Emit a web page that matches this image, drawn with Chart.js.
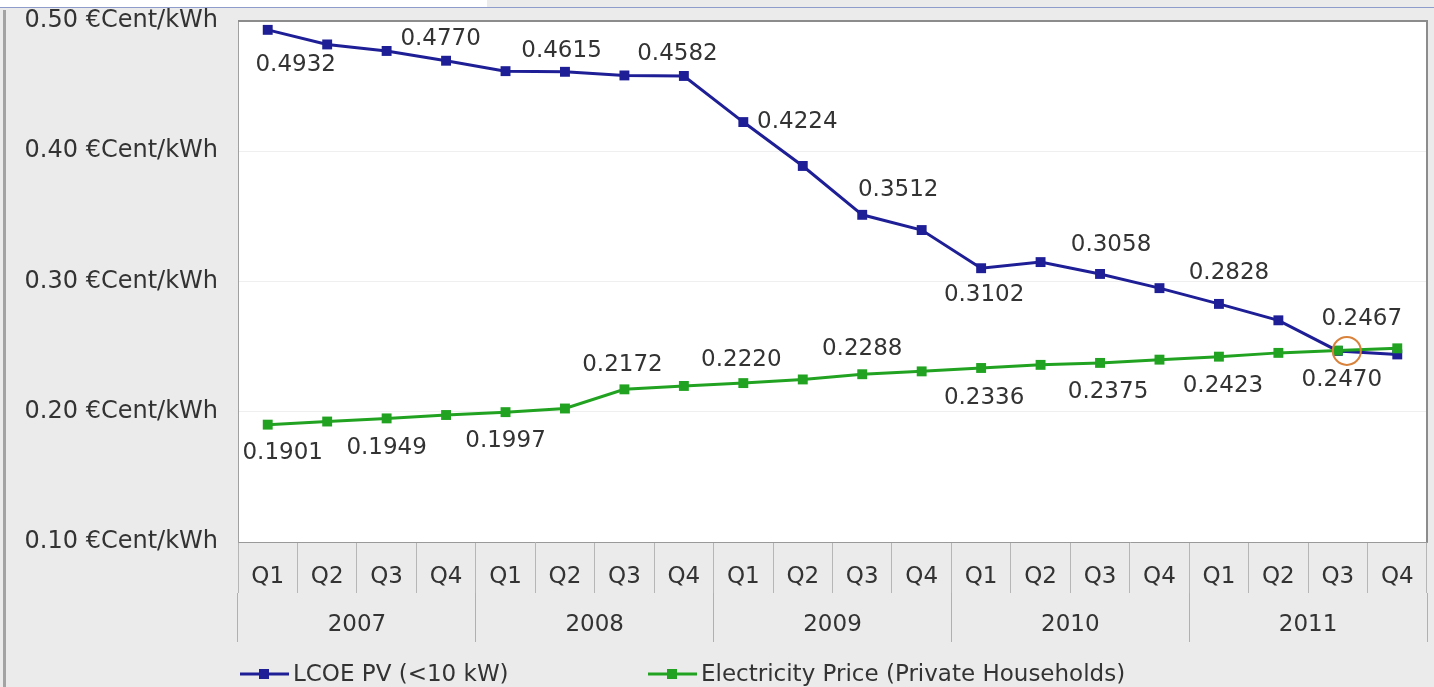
<!DOCTYPE html>
<html>
<head>
<meta charset="utf-8">
<script src="https://cdn.jsdelivr.net/npm/chart.js@4.4.1/dist/chart.umd.min.js"></script>
<style>
  html, body { margin: 0; padding: 0; background: #ebebeb; overflow: hidden; }
  #wrap { position: relative; width: 1434px; height: 687px; background: #ebebeb; }
  #strip { position: absolute; left: 0; top: 0; width: 487px; height: 7px; background: #ffffff; }
  #rule { position: absolute; left: 0; top: 7px; width: 1434px; height: 1px; background: #8e9ccc; }
  #edge { position: absolute; left: 3px; top: 10px; width: 3px; height: 677px; background: #a3a3a3; }
  canvas { position: absolute; left: 0; top: 0; }
</style>
</head>
<body>
<div id="wrap">
  <div id="strip"></div>
  <div id="rule"></div>
  <div id="edge"></div>
  <canvas id="c" width="1434" height="687"></canvas>
</div>
<script>
// Quarterly axis labels and the year band beneath them
const quarters = ['Q1','Q2','Q3','Q4','Q1','Q2','Q3','Q4','Q1','Q2','Q3','Q4','Q1','Q2','Q3','Q4','Q1','Q2','Q3','Q4'];
const years = ['2007', '2008', '2009', '2010', '2011'];

// Levelised cost of PV electricity (<10 kW systems), €/kWh
const lcoePV = [0.4932, 0.4820, 0.4770, 0.4695, 0.4615, 0.4610, 0.4582, 0.4578, 0.4224, 0.3887,
                0.3512, 0.3395, 0.3102, 0.3149, 0.3058, 0.2949, 0.2828, 0.2702, 0.2467, 0.2440];
// Electricity price for private households, €/kWh
const electricityPrice = [0.1901, 0.1925, 0.1949, 0.1975, 0.1997, 0.2025, 0.2172, 0.2198, 0.2220, 0.2248,
                          0.2288, 0.2310, 0.2336, 0.2360, 0.2375, 0.2400, 0.2423, 0.2452, 0.2470, 0.2487];

// Value axis range and step
const yMin = 0.10;
const yMax = 0.50;
const yStep = 0.10;

// Quarters that carry a value label (first and third quarter of each year)
const labelledPoints = [0, 2, 4, 6, 8, 10, 12, 14, 16, 18];
// Quarter where the two curves meet (grid parity)
const parityIndex = 18;

const FONT = "'DejaVu Sans', Verdana, sans-serif";
const TEXT = '#333333';
const BLUE = '#1e1e96';
const GREEN = '#21a321';

// Label offsets (px) from each labelled point, per series
const labelOffsets = [
  [[28, 35], [54, -12], [56, -20], [53, -21], [54, 0], [36, -25], [3, 27], [11, -29], [10, -31], [24, -32]],
  [[15, 28], [0, 30], [0, 29], [-2, -24], [-2, -23], [0, -25], [3, 30], [8, 29], [4, 29], [4, 29]]
];

const plotFrame = {
  id: 'plotFrame',
  beforeDraw(chart) {
    const { ctx, chartArea: a } = chart;
    ctx.save();
    ctx.fillStyle = '#ffffff';
    ctx.fillRect(a.left, a.top, a.right - a.left, a.bottom - a.top);
    ctx.restore();
  },
  afterDraw(chart) {
    const { ctx, chartArea: a } = chart;
    ctx.save();
    ctx.strokeStyle = '#8c8c8c';
    ctx.lineWidth = 2;
    ctx.beginPath();
    ctx.moveTo(a.left, a.top);
    ctx.lineTo(a.right, a.top);
    ctx.lineTo(a.right, a.bottom);
    ctx.stroke();
    ctx.restore();
  }
};

const valueLabels = {
  id: 'valueLabels',
  afterDatasetsDraw(chart) {
    const { ctx } = chart;
    ctx.save();
    ctx.font = '23px ' + FONT;
    ctx.fillStyle = TEXT;
    ctx.textAlign = 'center';
    ctx.textBaseline = 'middle';
    chart.data.datasets.forEach((ds, di) => {
      const meta = chart.getDatasetMeta(di);
      labelledPoints.forEach((idx, k) => {
        const pt = meta.data[idx];
        const [dx, dy] = labelOffsets[di][k];
        ctx.fillText(ds.data[idx].toFixed(4), pt.x + dx, pt.y + dy);
      });
    });
    // ring marking where the curves meet
    const p = chart.getDatasetMeta(0).data[parityIndex];
    ctx.strokeStyle = '#d9823b';
    ctx.lineWidth = 2;
    ctx.beginPath();
    ctx.arc(p.x + 9, p.y, 14, 0, Math.PI * 2);
    ctx.stroke();
    ctx.restore();
  }
};

const lineLegend = {
  id: 'lineLegend',
  afterDraw(chart) {
    const { ctx } = chart;
    const starts = [240, 648];
    const y = 674;
    ctx.save();
    chart.data.datasets.forEach((ds, i) => {
      const x = starts[i];
      ctx.strokeStyle = ds.borderColor;
      ctx.lineWidth = 3;
      ctx.beginPath();
      ctx.moveTo(x, y);
      ctx.lineTo(x + 49, y);
      ctx.stroke();
      ctx.fillStyle = ds.borderColor;
      ctx.fillRect(x + 19, y - 5, 10, 10);
      ctx.font = '23px ' + FONT;
      ctx.fillStyle = TEXT;
      ctx.textAlign = 'left';
      ctx.textBaseline = 'middle';
      ctx.fillText(ds.label, x + 53, y + 1);
    });
    ctx.restore();
  }
};

new Chart(document.getElementById('c'), {
  type: 'line',
  data: {
    labels: quarters,
    datasets: [
      {
        label: 'LCOE PV (<10 kW)',
        data: lcoePV,
        borderColor: BLUE,
        backgroundColor: BLUE,
        borderWidth: 3,
        pointStyle: 'rect',
        pointRadius: 7,
        pointBorderWidth: 0,
        tension: 0,
        order: 1
      },
      {
        label: 'Electricity Price (Private Households)',
        data: electricityPrice,
        borderColor: GREEN,
        backgroundColor: GREEN,
        borderWidth: 3,
        pointStyle: 'rect',
        pointRadius: 7,
        pointBorderWidth: 0,
        tension: 0,
        order: 0
      }
    ]
  },
  options: {
    responsive: false,
    animation: false,
    layout: { padding: { top: 21, right: 6, bottom: 45, left: 0 } },
    plugins: {
      legend: { display: false },
      tooltip: { enabled: false }
    },
    scales: {
      x: {
        type: 'category',
        position: 'bottom',
        offset: true,
        weight: 0,
        grid: {
          offset: true,
          drawOnChartArea: false,
          drawTicks: true,
          tickLength: 51,
          color: '#b6b6b6',
          lineWidth: 1
        },
        border: { display: true, color: '#9a9a9a', width: 1 },
        ticks: {
          color: TEXT,
          font: { family: FONT, size: 23 },
          padding: -30,
          maxRotation: 0,
          autoSkip: false
        },
        afterFit(scale) { scale.height = 51; }
      },
      x2: {
        type: 'category',
        axis: 'x',
        position: 'bottom',
        labels: years,
        offset: true,
        weight: 1,
        grid: {
          offset: true,
          drawOnChartArea: false,
          drawTicks: true,
          tickLength: 49,
          color: '#b0b0b0',
          lineWidth: 1
        },
        border: { display: false },
        ticks: {
          color: TEXT,
          font: { family: FONT, size: 23 },
          padding: -31,
          maxRotation: 0,
          autoSkip: false
        },
        afterFit(scale) { scale.height = 49; }
      },
      y: {
        min: yMin,
        max: yMax,
        grid: {
          drawTicks: false,
          color: '#efefef',
          lineWidth: 1
        },
        border: { display: true, color: '#a0a0a0', width: 1 },
        ticks: {
          stepSize: yStep,
          color: TEXT,
          padding: 20,
          font: { family: FONT, size: 24 },
          callback: (v) => v.toFixed(2) + ' €Cent/kWh'
        },
        afterFit(scale) {
          scale.width = 238;
          scale.paddingTop = 0;
          scale.paddingBottom = 0;
        }
      }
    }
  },
  plugins: [plotFrame, valueLabels, lineLegend]
});
</script>
</body>
</html>
